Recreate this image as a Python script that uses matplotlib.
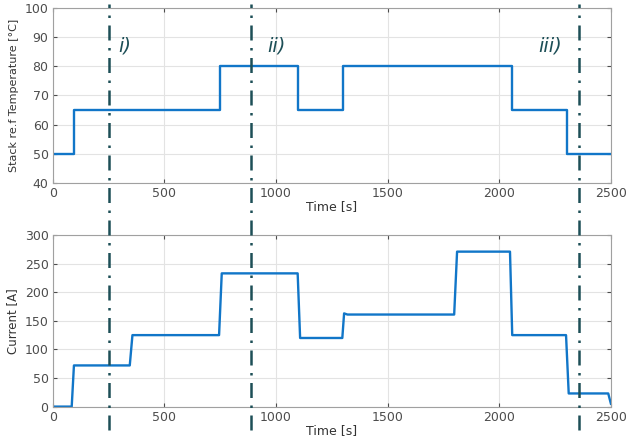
import matplotlib
matplotlib.use('Agg')
import matplotlib.pyplot as plt
from matplotlib.lines import Line2D
import matplotlib.transforms as mtransforms

# stack reference temperature profile
t_temp = [0, 95, 95, 750, 750, 1100, 1100, 1300, 1300, 2055, 2055, 2305, 2305, 2500]
temp = [50, 50, 65, 65, 80, 80, 65, 65, 80, 80, 65, 65, 50, 50]

# current profile
t_cur = [0, 85, 95, 345, 357, 745, 757, 1097, 1108, 1297, 1305, 1320, 1798, 1811,
         2048, 2058, 2299, 2311, 2488, 2500]
cur = [0, 0, 72, 72, 125, 125, 233, 233, 120, 120, 163, 161, 161, 271,
       271, 125, 125, 23, 23, 5]

phase_x = [250, 890, 2358]
phase_lbl = ['i)', 'ii)', 'iii)']
phase_lbl_x = [322, 1000, 2228]

blue = '#1176c8'
dark = '#1d4f57'
grey = '#4d4d4d'

fig = plt.figure(figsize=(6.3, 4.41), dpi=100)
ax1 = fig.add_axes([0.0837, 0.586, 0.886, 0.395])
ax2 = fig.add_axes([0.0837, 0.078, 0.886, 0.389])

ax1.plot(t_temp, temp, color=blue, lw=1.7)
ax2.plot(t_cur, cur, color=blue, lw=1.7)

ax1.set_ylim(40, 100)
ax1.set_yticks(range(40, 101, 10))
ax2.set_ylim(0, 300)
ax2.set_yticks(range(0, 301, 50))

for ax in (ax1, ax2):
    ax.set_xlim(0, 2500)
    ax.set_xticks(range(0, 2501, 500))
    ax.grid(True, color='#e3e3e3', lw=0.8)
    ax.set_axisbelow(True)
    ax.tick_params(labelsize=9, colors=grey, length=3, direction='in',
                   top=True, right=True, pad=3)
    for s in ax.spines.values():
        s.set_color('#a0a0a0')
        s.set_linewidth(0.8)
    ax.set_xlabel('Time [s]', fontsize=9, color='#333333', labelpad=0)

ax1.set_ylabel('Stack re.f Temperature [°C]', fontsize=8, color='#333333', labelpad=4)
ax2.set_ylabel('Current [A]', fontsize=8.5, color='#333333', labelpad=4)

trans = mtransforms.blended_transform_factory(ax1.transData, fig.transFigure)
for x in phase_x:
    fig.add_artist(Line2D([x, x], [0.025, 0.99], transform=trans, color=dark,
                          lw=1.8, ls=(0, (6, 3, 1, 3))))

for x, s in zip(phase_lbl_x, phase_lbl):
    ax1.text(x, 87, s, fontsize=14, style='italic', weight='medium', color=dark,
             ha='center', va='center')

fig.savefig('out.png', dpi=100)
